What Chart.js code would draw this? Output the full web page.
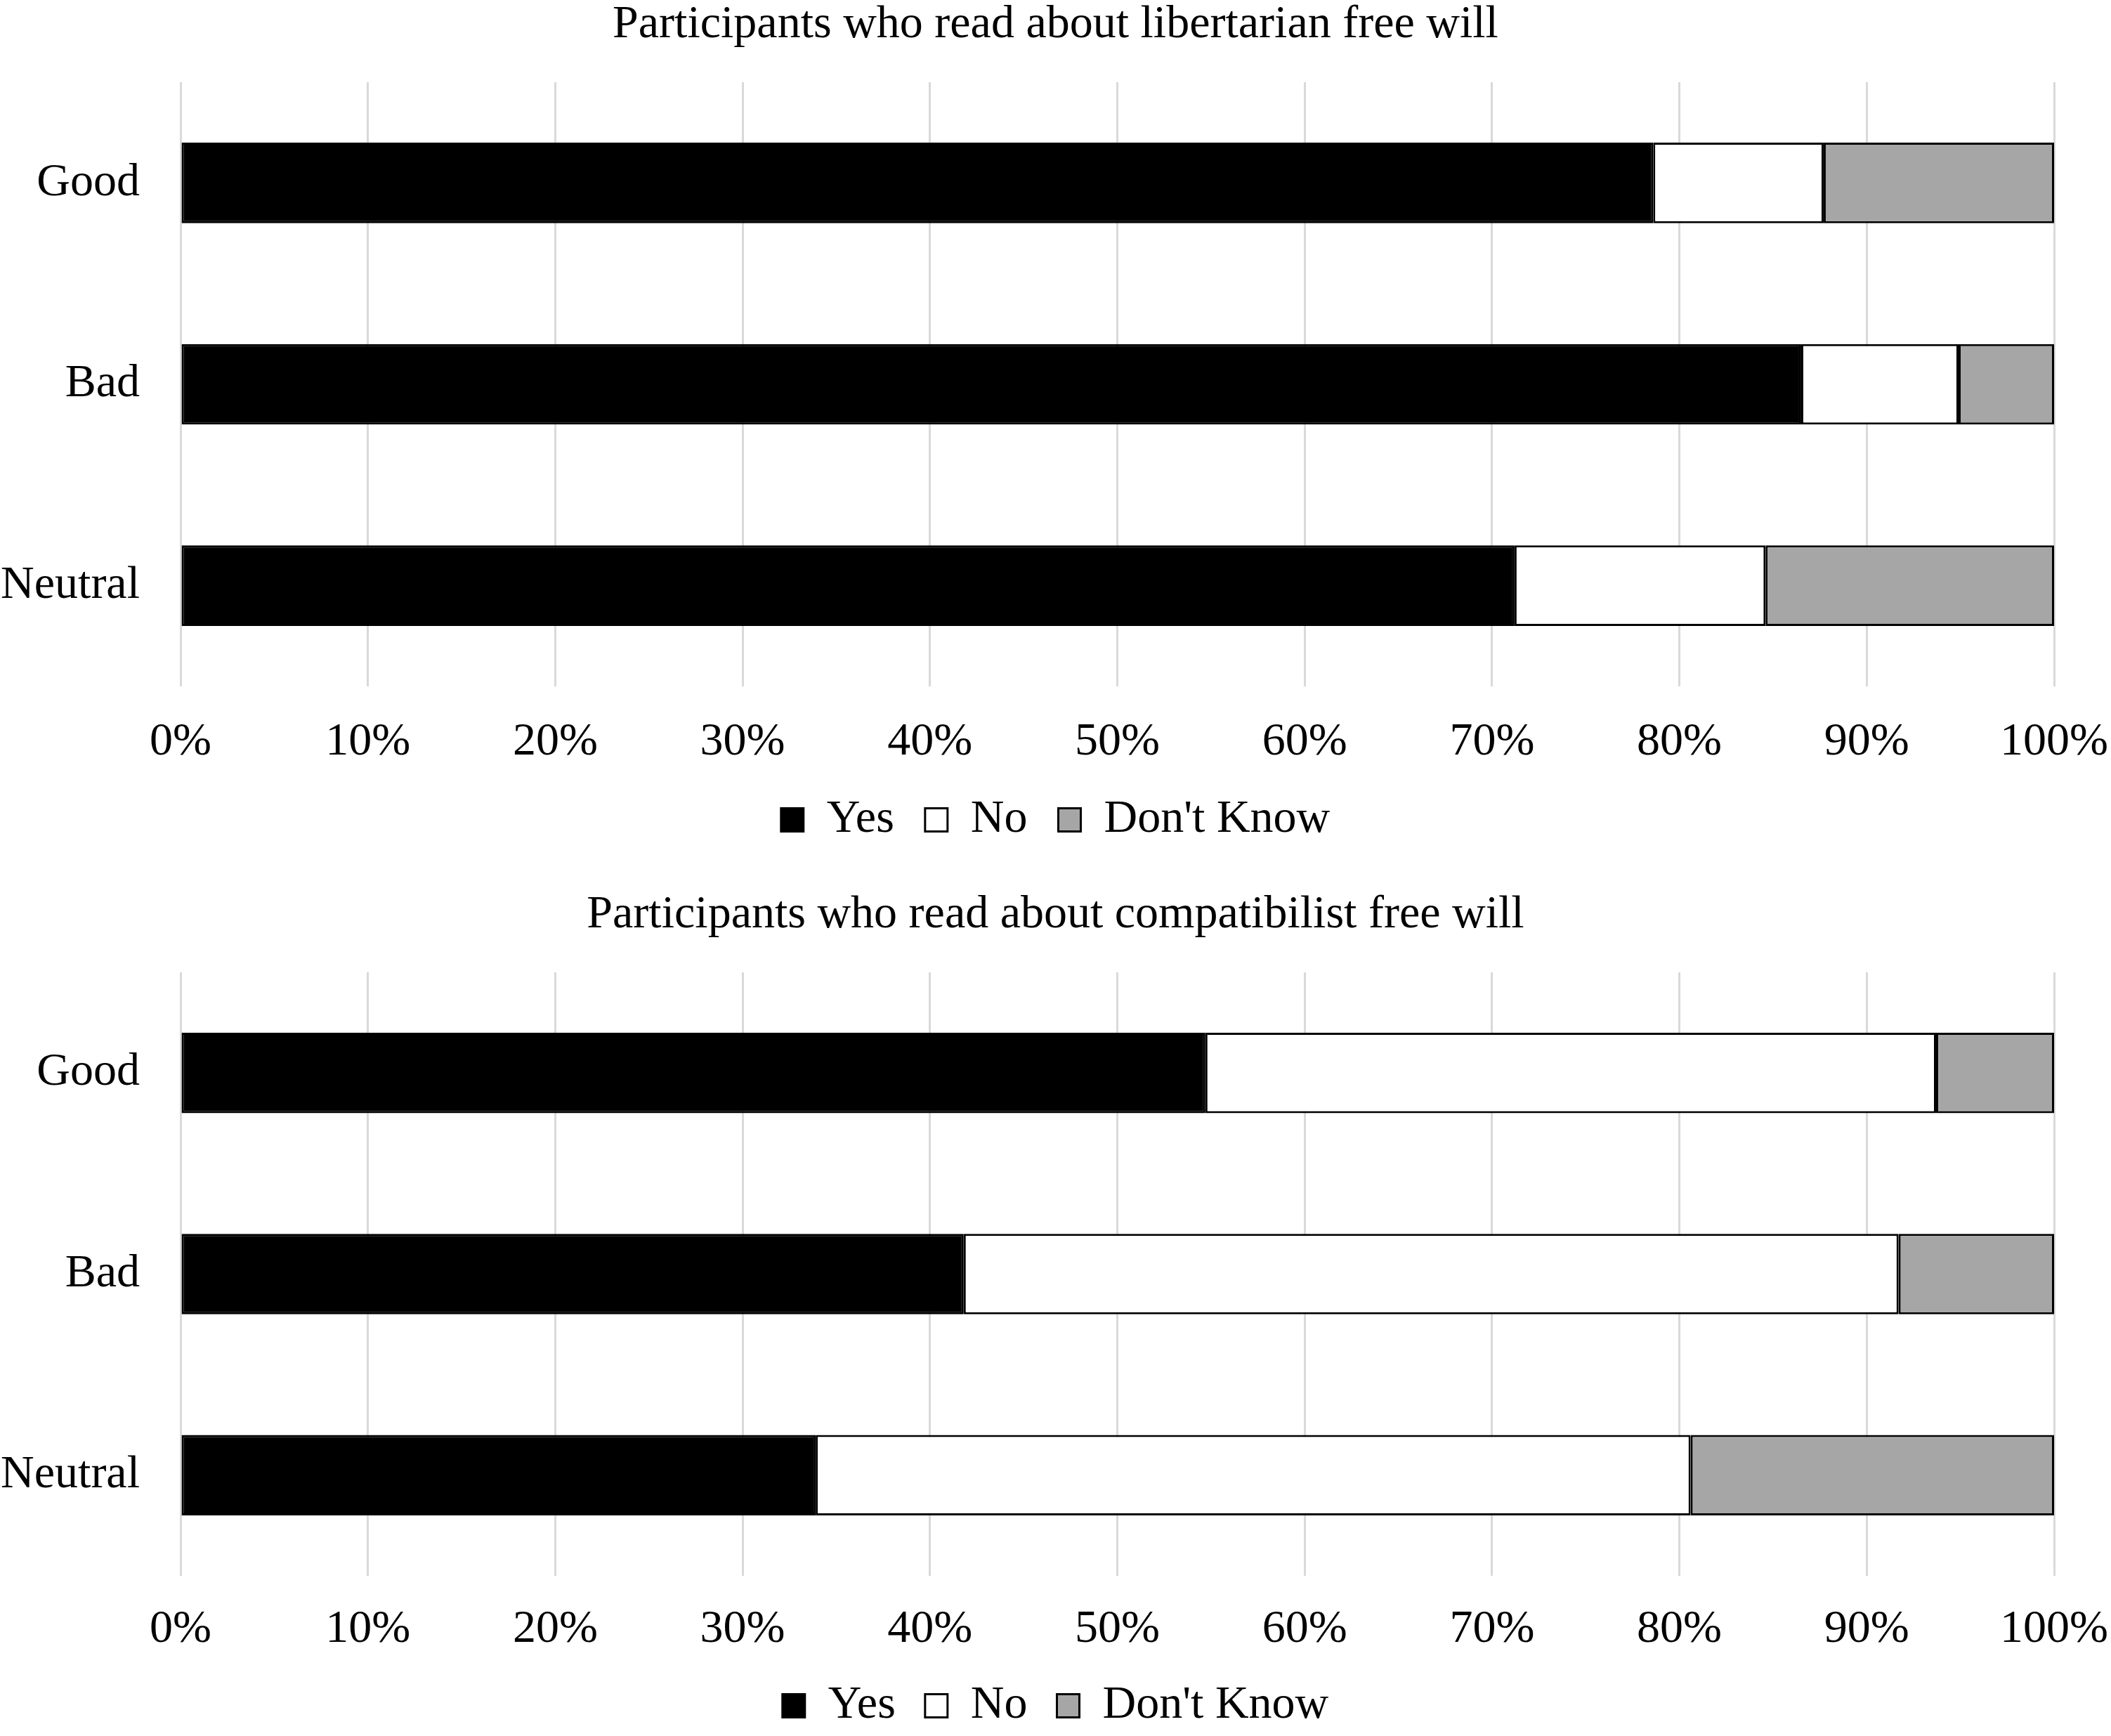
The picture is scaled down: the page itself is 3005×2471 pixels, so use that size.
<!DOCTYPE html>
<html>
<head>
<meta charset="utf-8">
<script src="https://cdn.jsdelivr.net/npm/chart.js@4.4.1/dist/chart.umd.min.js"></script>
<style>
  body { margin: 0; background: #fff; }
  canvas { display: block; }
</style>
</head>
<body>
<canvas id="chartLib" width="3005" height="1235"></canvas>
<canvas id="chartCompat" width="3005" height="1236"></canvas>
<script>
const categories = ['Good', 'Bad', 'Neutral'];
const seriesNames = ['Yes', 'No', "Don't Know"];

// libertarian free will (percent)
const libYes = [78.6, 86.5, 71.2];
const libNo = [9.1, 8.4, 13.4];
const libDontKnow = [12.3, 5.1, 15.4];

// compatibilist free will (percent)
const compYes = [54.7, 41.8, 33.9];
const compNo = [39.0, 49.9, 46.7];
const compDontKnow = [6.3, 8.3, 19.4];

const xTickStep = 10;
const xTickSuffix = '%';

Chart.defaults.font.family = "'Liberation Serif', 'Times New Roman', serif";
Chart.defaults.color = '#000';

const FONT = 66;

function makeChart(canvasId, title, yes, no, dk, pad) {
    const ctx = document.getElementById(canvasId).getContext('2d');
    const common = { borderColor: '#000', borderWidth: 3, borderSkipped: false,
                     barPercentage: 0.4, categoryPercentage: 1.0 };
    return new Chart(ctx, {
        type: 'bar',
        data: {
            labels: categories,
            datasets: [
                Object.assign({ label: seriesNames[0], data: yes, backgroundColor: '#000' }, common),
                Object.assign({ label: seriesNames[1], data: no, backgroundColor: '#fff' }, common),
                Object.assign({ label: seriesNames[2], data: dk, backgroundColor: '#a6a6a6' }, common)
            ]
        },
        options: {
            indexAxis: 'y',
            responsive: false,
            devicePixelRatio: 1,
            animation: false,
            layout: { padding: { top: pad.top, bottom: pad.bottom, left: 0, right: 0 } },
            plugins: {
                title: {
                    display: true,
                    text: title,
                    color: '#000',
                    font: { size: FONT, weight: 'normal', lineHeight: 1 },
                    padding: { top: 3, bottom: 48 }
                },
                legend: {
                    position: 'bottom',
                    labels: {
                        boxWidth: 32,
                        boxHeight: 33,
                        padding: pad.legend,
                        font: { size: FONT, lineHeight: 1 }
                    }
                },
                tooltip: { enabled: false }
            },
            scales: {
                x: {
                    stacked: true,
                    min: 0,
                    max: 100,
                    ticks: {
                        stepSize: xTickStep,
                        maxRotation: 0,
                        padding: pad.tick,
                        font: { size: FONT, lineHeight: 1 },
                        callback: v => v + xTickSuffix
                    },
                    grid: { color: '#d9d9d9', lineWidth: 3, drawTicks: false },
                    border: { display: false },
                    afterFit: scale => {
                        // padding is counted twice by default; keep a single gap
                        scale.height = pad.tick + FONT;
                        scale.paddingLeft = 0;
                        scale.paddingRight = 81;
                    }
                },
                y: {
                    stacked: true,
                    ticks: { padding: 58, font: { size: FONT, lineHeight: 1 } },
                    grid: { display: false, drawTicks: false },
                    border: { display: false },
                    afterFit: scale => {
                        scale.width = 257;
                        scale.paddingTop = 0;
                        scale.paddingBottom = 0;
                    }
                }
            }
        }
    });
}

makeChart('chartLib', 'Participants who read about libertarian free will',
    libYes, libNo, libDontKnow, { top: 0, bottom: 25, tick: 47, legend: 44 });
makeChart('chartCompat', 'Participants who read about compatibilist free will',
    compYes, compNo, compDontKnow, { top: 32, bottom: 0, tick: 44, legend: 42 });
</script>
</body>
</html>
